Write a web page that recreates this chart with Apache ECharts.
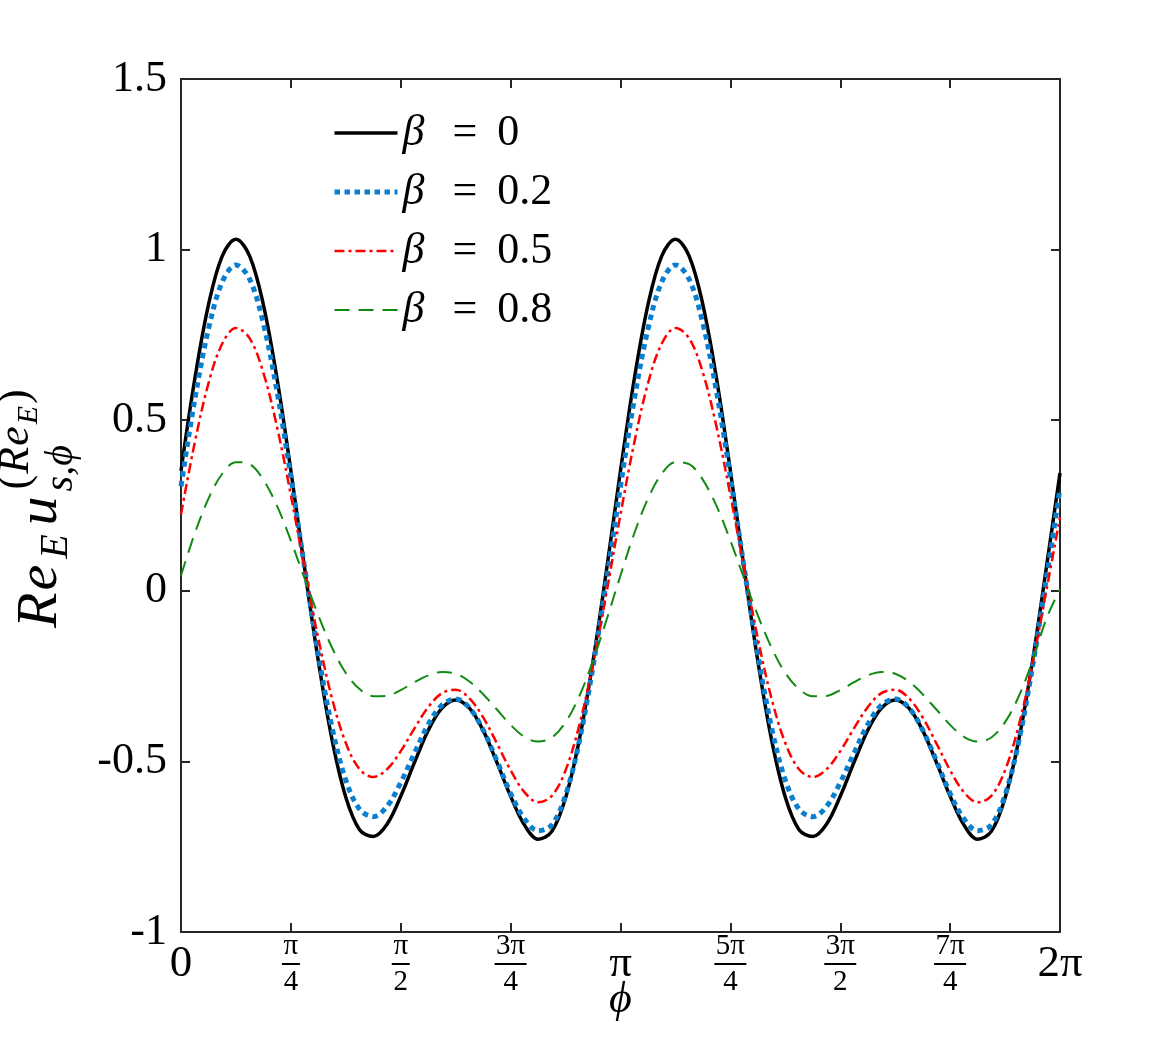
<!DOCTYPE html>
<html><head><meta charset="utf-8">
<script src="https://cdn.jsdelivr.net/npm/echarts@6/dist/echarts.min.js"></script>
<style>html,body{margin:0;padding:0;background:#fff}#c{width:1173px;height:1048px}</style>
</head><body><div id="c"></div>
<script>
// phi sample positions, in units of pi/4 (0 .. 8 = 2*pi)
const phiQuarterPi = [0,0.125,0.25,0.375,0.5,0.625,0.75,0.875,1,1.125,1.25,1.375,1.5,1.625,1.75,1.875,2,2.125,2.25,2.375,2.5,2.625,2.75,2.875,3,3.125,3.25,3.375,3.5,3.625,3.75,3.875,4,4.125,4.25,4.375,4.5,4.625,4.75,4.875,5,5.125,5.25,5.375,5.5,5.625,5.75,5.875,6,6.125,6.25,6.375,6.5,6.625,6.75,6.875,7,7.125,7.25,7.375,7.5,7.625,7.75,7.875,8];

const beta0 = [0.352,0.620,0.838,0.981,1.030,0.981,0.838,0.620,0.352,0.066,-0.206,-0.437,-0.605,-0.700,-0.720,-0.684,-0.602,-0.503,-0.409,-0.344,-0.320,-0.344,-0.409,-0.503,-0.602,-0.686,-0.728,-0.705,-0.607,-0.437,-0.206,0.066,
  0.352,0.620,0.838,0.981,1.030,0.981,0.838,0.620,0.352,0.066,-0.206,-0.437,-0.605,-0.700,-0.720,-0.684,-0.602,-0.503,-0.409,-0.344,-0.320,-0.344,-0.409,-0.503,-0.602,-0.686,-0.728,-0.705,-0.607,-0.437,-0.206,0.066,0.345];
const beta02 = [0.306,0.560,0.767,0.905,0.955,0.913,0.783,0.582,0.334,0.069,-0.186,-0.401,-0.555,-0.640,-0.662,-0.632,-0.562,-0.476,-0.392,-0.335,-0.317,-0.343,-0.408,-0.498,-0.594,-0.668,-0.703,-0.686,-0.599,-0.441,-0.222,0.035,
  0.306,0.560,0.767,0.905,0.955,0.913,0.783,0.582,0.334,0.069,-0.186,-0.401,-0.555,-0.640,-0.662,-0.632,-0.562,-0.476,-0.392,-0.335,-0.317,-0.343,-0.408,-0.498,-0.594,-0.668,-0.703,-0.686,-0.599,-0.441,-0.222,0.035,0.300];
const beta05 = [0.224,0.434,0.608,0.724,0.770,0.740,0.639,0.479,0.280,0.066,-0.140,-0.316,-0.446,-0.523,-0.546,-0.523,-0.470,-0.403,-0.341,-0.300,-0.290,-0.315,-0.371,-0.447,-0.526,-0.590,-0.620,-0.601,-0.526,-0.394,-0.214,-0.001,
  0.224,0.434,0.608,0.724,0.770,0.740,0.639,0.479,0.280,0.066,-0.140,-0.316,-0.446,-0.523,-0.546,-0.523,-0.470,-0.403,-0.341,-0.300,-0.290,-0.315,-0.371,-0.447,-0.526,-0.590,-0.620,-0.601,-0.526,-0.394,-0.214,-0.001,0.216];
const beta08 = [0.045,0.168,0.270,0.343,0.377,0.371,0.325,0.248,0.147,0.036,-0.072,-0.167,-0.241,-0.288,-0.309,-0.308,-0.291,-0.268,-0.248,-0.238,-0.243,-0.266,-0.303,-0.348,-0.393,-0.428,-0.442,-0.430,-0.385,-0.309,-0.205,-0.083,
  0.045,0.168,0.270,0.343,0.377,0.371,0.325,0.248,0.147,0.036,-0.072,-0.167,-0.241,-0.288,-0.309,-0.308,-0.291,-0.268,-0.248,-0.238,-0.243,-0.266,-0.303,-0.348,-0.393,-0.428,-0.442,-0.430,-0.385,-0.309,-0.205,-0.083,0.005];

const betaValues = ['0', '0.2', '0.5', '0.8'];
const seriesNames = ['β = 0', 'β = 0.2', 'β = 0.5', 'β = 0.8'];
const xTickLabels = ['0', 'π/4', 'π/2', '3π/4', 'π', '5π/4', '3π/2', '7π/4', '2π'];
const yTickLabels = ['-1', '-0.5', '0', '0.5', '1', '1.5'];

const SERIF = '"Liberation Serif", "DejaVu Serif", serif';
const AX = '#262626';
const styles = [
  {color: '#000000', width: 3.5, type: 'solid'},
  {color: '#0b7fcf', width: 5, type: [5.5, 4.5]},
  {color: '#ff0000', width: 2.5, type: [10, 4, 3, 4]},
  {color: '#118a11', width: 2, type: [15, 9]}
];

const chart = echarts.init(document.getElementById('c'), null, {renderer: 'canvas'});

const ctx = document.createElement('canvas').getContext('2d');
function tw(text, size, italic) {
  ctx.font = (italic ? 'italic ' : '') + size + 'px ' + SERIF;
  return ctx.measureText(text).width;
}
// y-axis label pieces laid out along the reading direction (rotated group)
const yLabelPieces = [];
let cx = 0;
function piece(text, fs, italic, base, x) {
  yLabelPieces.push({type: 'text', x: x, y: base - 0.3 * fs,
    style: {text: text, fontSize: fs, fontFamily: SERIF, fontStyle: italic ? 'italic' : 'normal',
      fill: '#000', align: 'left', verticalAlign: 'middle'}});
  return tw(text, fs, italic);
}
cx += piece('R', 58, true, 0, cx) + 2;
cx += piece('e', 58, true, 0, cx) + 6;
cx += piece('E', 40, true, 10, cx) + 9;
cx += piece('u', 58, true, 0, cx) + 5;
piece('s,ϕ', 40, true, 15, cx);
let sx = cx + 2;
sx += piece('(', 44, false, -28, sx) + 1;
sx += piece('R', 44, true, -28, sx) + 1;
sx += piece('e', 44, true, -28, sx) + 2;
sx += piece('E', 30, true, -20, sx) + 2;
piece(')', 44, false, -28, sx);

function mkSeries(name, data, st) {
  return {
    name: name, type: 'line', symbol: 'none', smooth: 0.35,
    data: phiQuarterPi.map((x, i) => [x, data[i]]),
    lineStyle: {color: st.color, width: st.width, type: st.type, cap: 'butt'},
    itemStyle: {color: st.color}, emphasis: {disabled: true}
  };
}

const axisLineCfg = {show: true, onZero: false, lineStyle: {color: AX, width: 2}};
const tickCfg = {show: true, inside: true, length: 9, lineStyle: {color: AX, width: 2}};

const option = {
  animation: false,
  backgroundColor: '#fff',
  grid: {left: 181, right: 113, top: 79, bottom: 116, containLabel: false},
  legend: {
    orient: 'vertical', left: 332, top: 111, padding: 0,
    itemWidth: 63, itemHeight: 14, itemGap: 15,
    data: seriesNames.map((n, i) => ({
      name: n,
      lineStyle: {color: styles[i].color, width: styles[i].width, type: styles[i].type, cap: 'butt'},
      itemStyle: {opacity: 0, color: 'rgba(0,0,0,0)', borderWidth: 0}
    })),
    itemStyle: {opacity: 0, color: 'rgba(0,0,0,0)', borderWidth: 0},
    formatter: name => '{b|β}{e|=}{v|' + betaValues[seriesNames.indexOf(name)] + '}',
    textStyle: {fontSize: 42, lineHeight: 44, color: '#000', fontFamily: SERIF,
      rich: {
        b: {fontSize: 44, fontStyle: 'italic', fontFamily: SERIF, color: '#000'},
        e: {fontSize: 44, fontFamily: SERIF, color: '#000', padding: [0, 20, 0, 28]},
        v: {fontSize: 44, fontFamily: SERIF, color: '#000'}
      }}
  },
  xAxis: [{
    type: 'value', min: 0, max: 8, interval: 1, position: 'bottom',
    axisLine: axisLineCfg, axisTick: tickCfg, splitLine: {show: false},
    name: 'ϕ', nameLocation: 'middle', nameGap: 68, nameMoveOverlap: false,
    nameTextStyle: {fontSize: 44, fontStyle: 'italic', fontFamily: SERIF, color: '#000', verticalAlign: 'middle'},
    axisLabel: {
      margin: 0, color: '#000', fontFamily: SERIF,
      formatter: v => {
        const s = xTickLabels[Math.round(v)];
        if (s.indexOf('/') >= 0) {
          const parts = s.split('/');
          return '{num|' + parts[0] + '}\n{' + (parts[0].length > 1 ? 'barW' : 'bar') + '| }\n{den|' + parts[1] + '}';
        }
        return '{big|' + s + '}';
      },
      rich: {
        num: {fontSize: 29, lineHeight: 28, fontFamily: SERIF, color: '#000'},
        den: {fontSize: 29, lineHeight: 28, fontFamily: SERIF, color: '#000'},
        bar: {width: 18, height: 2, lineHeight: 8, fontSize: 2, backgroundColor: '#000'},
        barW: {width: 32, height: 2, lineHeight: 8, fontSize: 2, backgroundColor: '#000'},
        big: {fontSize: 45, lineHeight: 64, fontFamily: SERIF, color: '#000'}
      }
    }
  }, {
    type: 'value', min: 0, max: 8, interval: 1, position: 'top',
    axisLine: axisLineCfg, axisTick: tickCfg, splitLine: {show: false}, axisLabel: {show: false}
  }],
  yAxis: [{
    type: 'value', min: -1, max: 1.5, interval: 0.5, position: 'left',
    axisLine: axisLineCfg, axisTick: tickCfg, splitLine: {show: false},
    axisLabel: {margin: 14, color: '#000', fontSize: 44, fontFamily: SERIF,
      formatter: v => yTickLabels[Math.round((v + 1) / 0.5)]}
  }, {
    type: 'value', min: -1, max: 1.5, interval: 0.5, position: 'right',
    axisLine: axisLineCfg, axisTick: tickCfg, splitLine: {show: false}, axisLabel: {show: false}
  }],
  graphic: [{type: 'group', x: 58, y: 628, rotation: Math.PI / 2, children: yLabelPieces}],
  series: [
    mkSeries(seriesNames[0], beta0, styles[0]),
    mkSeries(seriesNames[1], beta02, styles[1]),
    mkSeries(seriesNames[2], beta05, styles[2]),
    mkSeries(seriesNames[3], beta08, styles[3])
  ]
};
chart.setOption(option);
</script>
</body></html>
